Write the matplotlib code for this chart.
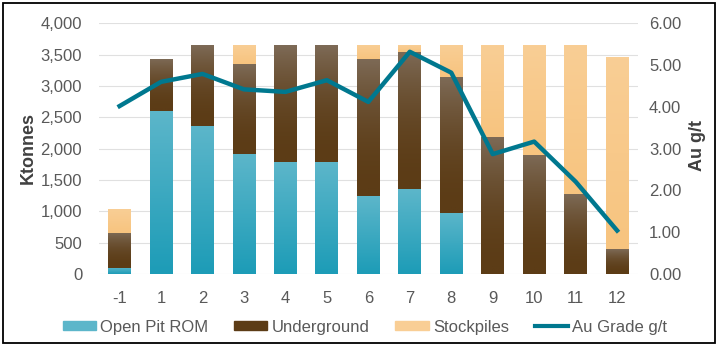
import matplotlib.pyplot as plt
import numpy as np
from matplotlib.colors import LinearSegmentedColormap
from matplotlib.patches import Rectangle, Patch
from matplotlib.lines import Line2D

plt.rcParams['font.family'] = ['Liberation Sans', 'DejaVu Sans']

years = ['-1', '1', '2', '3', '4', '5', '6', '7', '8', '9', '10', '11', '12']
open_pit = [100, 2605, 2370, 1920, 1785, 1785, 1240, 1355, 975, 0, 0, 0, 0]
underground = [560, 830, 1280, 1435, 1865, 1865, 2190, 2195, 2170, 2190, 1900, 1270, 395]
stockpiles = [375, 0, 0, 295, 0, 0, 225, 100, 505, 1460, 1750, 2380, 3065]
au_grade = [4.02, 4.60, 4.79, 4.42, 4.36, 4.64, 4.12, 5.32, 4.82, 2.87, 3.17, 2.21, 1.04]

# colours (top, bottom) of each gradient
c_op = ('#5cb6ca', '#1d9cb7')
c_ug = ('#7d6a56', '#5c3c16')
c_sp = ('#f9ce95', '#f7c47f')
c_line = '#00788f'
c_text = '#595959'

fig = plt.figure(figsize=(7.24, 3.52), dpi=100)
ax = fig.add_axes([0.1365, 0.2216, 0.7445, 0.712])

x = np.arange(len(years))
w = 0.55
op = np.array(open_pit)
ug = np.array(underground)
sp = np.array(stockpiles)


def grad_bars(ax, bars, cols, power=1.0):
    # gradient fill clipped to each bar, lighter at the top
    cmap = LinearSegmentedColormap.from_list('g', [cols[1], cols[0]])
    grad = (np.linspace(0, 1, 64) ** power).reshape(-1, 1)
    for b in bars:
        if b.get_height() <= 0:
            continue
        x0, y0 = b.get_x(), b.get_y()
        im = ax.imshow(grad, cmap=cmap, origin='lower', aspect='auto',
                       extent=[x0, x0 + b.get_width(), y0, y0 + b.get_height()],
                       zorder=2, vmin=0, vmax=1)
        im.set_clip_path(b)
        b.set_alpha(0)


b1 = ax.bar(x, op, w, color=c_op[1], zorder=2)
b2 = ax.bar(x, ug, w, bottom=op, color=c_ug[1], zorder=2)
b3 = ax.bar(x, sp, w, bottom=op + ug, color=c_sp[1], zorder=2)
grad_bars(ax, b1, c_op)
grad_bars(ax, b2, c_ug, power=2.0)
grad_bars(ax, b3, c_sp)

ax.set_xlim(-0.5, len(years) - 0.5)
ax.set_ylim(0, 4000)
ax.set_yticks(np.arange(0, 4001, 500))
ax.set_yticklabels(['{:,}'.format(v) for v in range(0, 4001, 500)])
ax.set_xticks(x)
ax.set_xticklabels(years)
ax.grid(axis='y', color='#e0e0e0', linewidth=0.8, zorder=0)
for s in ax.spines.values():
    s.set_visible(False)
ax.tick_params(length=0, labelsize=12, labelcolor=c_text)
ax.tick_params(axis='y', pad=12)
ax.tick_params(axis='x', pad=12)

ax2 = ax.twinx()
ax2.plot(x, au_grade, color=c_line, linewidth=3.2, solid_joinstyle='round')
ax2.set_ylim(0, 6)
ax2.set_yticks(np.arange(0, 6.01, 1))
ax2.set_yticklabels(['{:.2f}'.format(v) for v in range(0, 7)])
for s in ax2.spines.values():
    s.set_visible(False)
ax2.tick_params(length=0, labelsize=12, labelcolor=c_text, pad=8)
ax.set_xlim(-0.5, len(years) - 0.5)

fig.text(0.039, 0.58, 'Ktonnes', rotation=90, ha='center', va='center',
         fontsize=13, fontweight='bold', color='#404040')
fig.text(0.963, 0.588, 'Au g/t', rotation=90, ha='center', va='center',
         fontsize=13, fontweight='bold', color='#404040')

handles = [Patch(color=c_op[0]), Patch(color=c_ug[1]), Patch(color=c_sp[0]),
           Line2D([], [], color=c_line, linewidth=3)]
labels = ['Open Pit ROM', 'Underground', 'Stockpiles', 'Au Grade g/t']
leg = fig.legend(handles, labels, loc='center', bbox_to_anchor=(0.504, 0.071),
                 ncol=4, frameon=False, fontsize=12, handlelength=2.0,
                 handleheight=0.45, handletextpad=0.25, columnspacing=1.55,
                 labelcolor=c_text)

fig.patches.append(Rectangle((3 / 724, 1 - 343 / 352), 712 / 724, 340 / 352,
                             transform=fig.transFigure, fill=False,
                             edgecolor='black', linewidth=1.3))

fig.savefig('out.png', dpi=100)
